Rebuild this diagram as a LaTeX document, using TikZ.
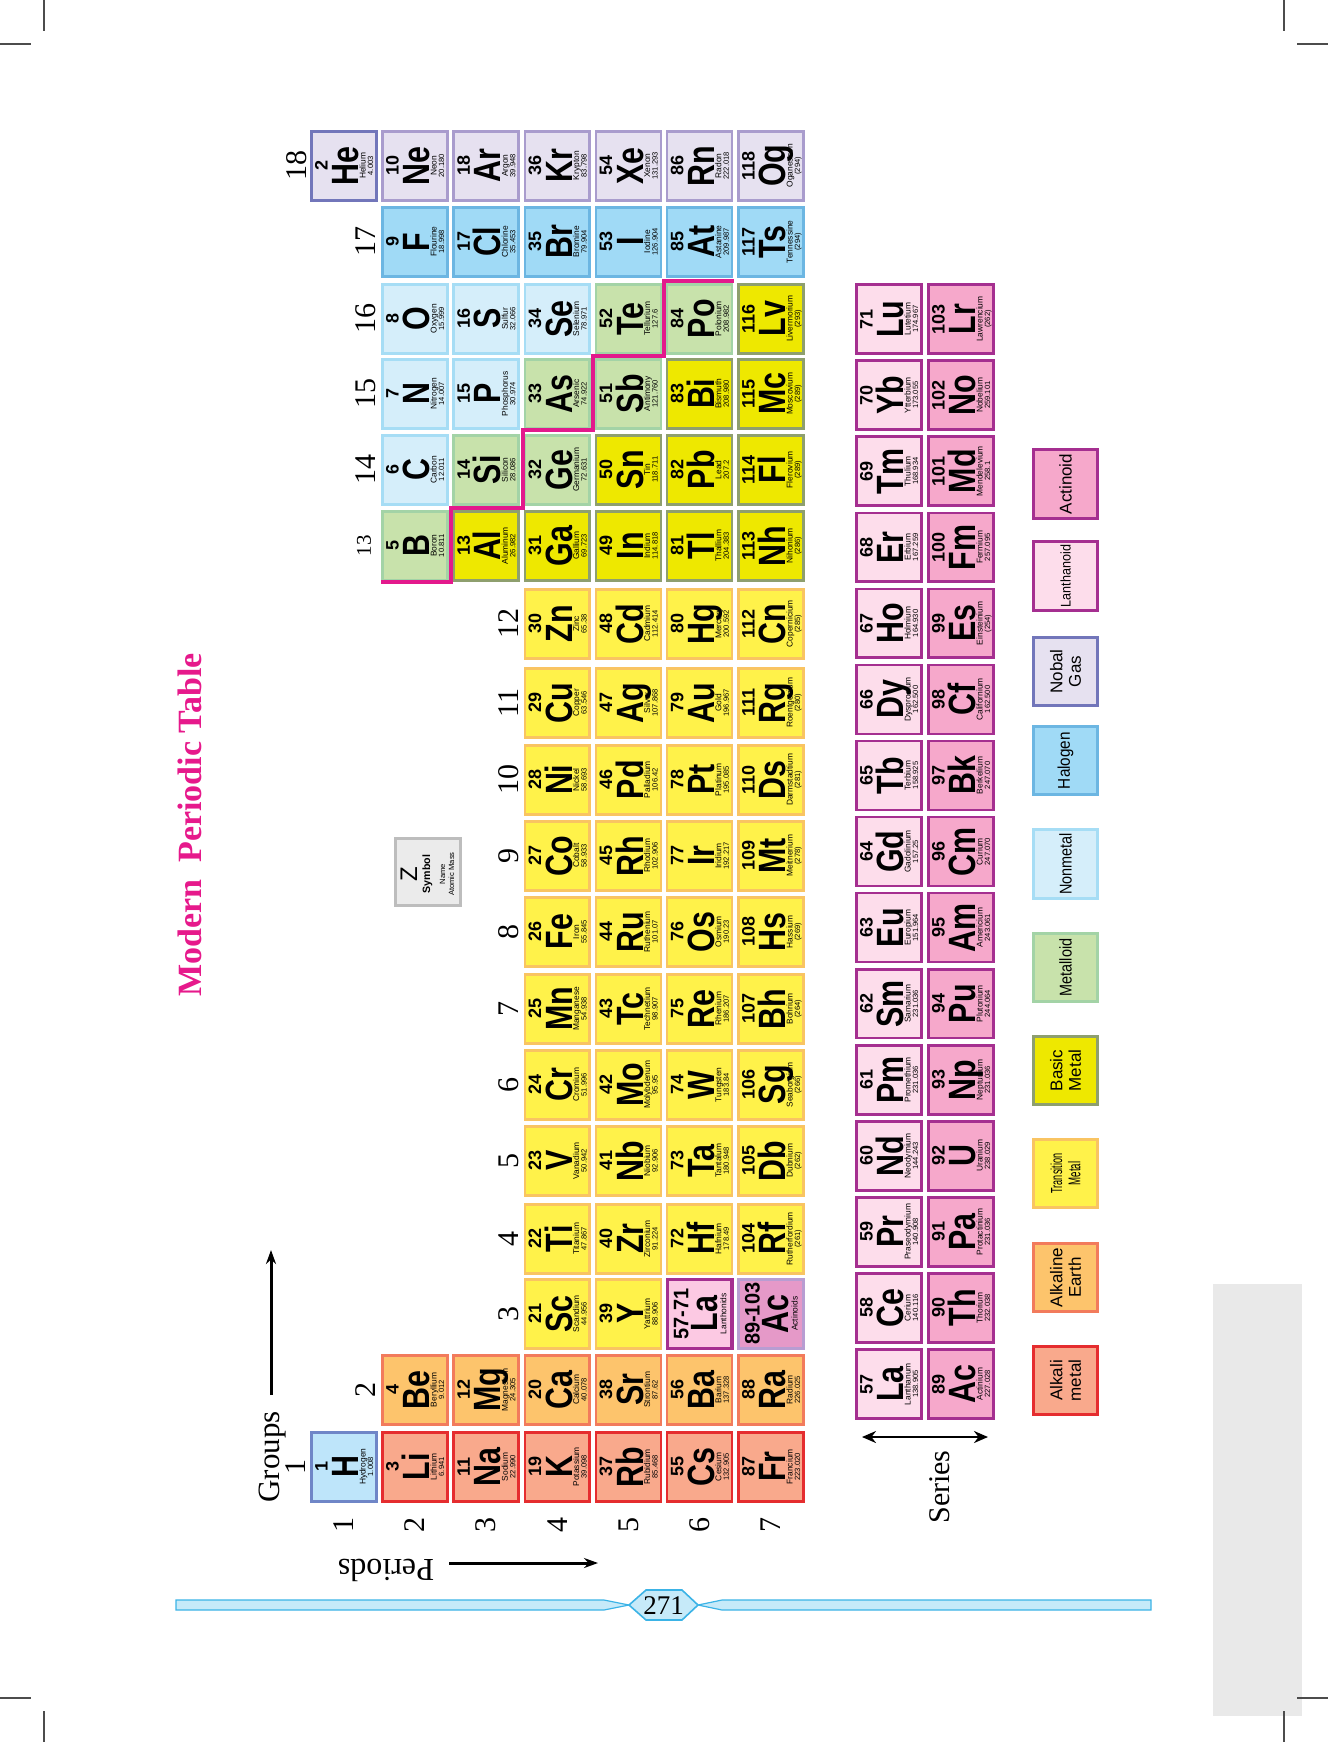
\documentclass[tikz,border=0pt]{standalone}
\usepackage{fontspec}
\setmainfont{Liberation Serif}
\newfontfamily\lsans{Liberation Sans}
\usepackage{graphicx}
\usetikzlibrary{arrows.meta}
\definecolor{alkF}{HTML}{F9A98C}\definecolor{alkD}{HTML}{E52D2F}
\definecolor{alkeF}{HTML}{FDC46C}\definecolor{alkeD}{HTML}{F27B5C}
\definecolor{transF}{HTML}{FFF24A}\definecolor{transD}{HTML}{F9C462}
\definecolor{basicF}{HTML}{EEE800}\definecolor{basicD}{HTML}{8E9F6E}
\definecolor{metdF}{HTML}{C8E2AB}\definecolor{metdD}{HTML}{A3D3A6}
\definecolor{nonmF}{HTML}{D5EEFA}\definecolor{nonmD}{HTML}{A6DDF5}
\definecolor{haloF}{HTML}{A0DAF6}\definecolor{haloD}{HTML}{6CB6E2}
\definecolor{nobleF}{HTML}{E6E1F0}\definecolor{nobleD}{HTML}{A99CCD}
\definecolor{heD}{HTML}{7276BA}
\definecolor{hydF}{HTML}{BEE5FA}\definecolor{hydD}{HTML}{6F86C7}
\definecolor{lanF}{HTML}{FDDDEB}\definecolor{lanD}{HTML}{A52F90}
\definecolor{actF}{HTML}{F6A8CB}
\definecolor{laphF}{HTML}{FCC9E3}\definecolor{acphF}{HTML}{E599C8}\definecolor{acphD}{HTML}{B89DD2}
\definecolor{stair}{HTML}{E3198C}
\definecolor{titleC}{HTML}{E6198B}
\definecolor{keyF}{HTML}{EBEBEB}\definecolor{keyD}{HTML}{BDBDBD}
\definecolor{bandF}{HTML}{C6EAF9}\definecolor{bandD}{HTML}{3BB3E6}
\definecolor{grayR}{HTML}{E9E9E9}
\tikzset{
  cellb/.style={line width=1.3pt},
  alk/.style={cellb,fill=alkF,draw=alkD},
  alke/.style={cellb,fill=alkeF,draw=alkeD},
  trans/.style={cellb,fill=transF,draw=transD},
  basic/.style={cellb,fill=basicF,draw=basicD},
  metd/.style={cellb,fill=metdF,draw=metdD},
  nonm/.style={cellb,fill=nonmF,draw=nonmD},
  halo/.style={cellb,fill=haloF,draw=haloD},
  noble/.style={cellb,fill=nobleF,draw=nobleD},
  heli/.style={cellb,fill=nobleF,draw=heD,line width=1.6pt},
  nobleleg/.style={cellb,fill=nobleF,draw=heD},
  hyd/.style={cellb,fill=hydF,draw=hydD},
  lan/.style={cellb,fill=lanF,draw=lanD},
  act/.style={cellb,fill=actF,draw=lanD},
  laph/.style={cellb,fill=laphF,draw=lanD,line width=1.6pt},
  acph/.style={cellb,fill=acphF,draw=acphD},
  numsty/.style={rotate=90,anchor=base,inner sep=0pt,font=\lsans\bfseries\fontsize{9}{9}\selectfont},
  symsty/.style={rotate=90,anchor=base,inner sep=0pt,font=\lsans\bfseries\fontsize{19}{20}\selectfont},
  namesty/.style={rotate=90,anchor=base,inner sep=0pt,font=\lsans\fontsize{4.2}{4.5}\selectfont},
  masssty/.style={rotate=90,anchor=base,inner sep=0pt,font=\lsans\fontsize{3.8}{4}\selectfont},
  glab/.style={rotate=90,inner sep=0pt,font=\fontsize{15}{15}\selectfont},
  legsty/.style={rotate=90,inner sep=0pt,align=center,font=\lsans\fontsize{8.5}{9.2}\selectfont},
  arr/.style={line width=1.5pt,-{Stealth[length=7pt,width=5pt]}},
  darr/.style={line width=1.2pt,{Stealth[length=7pt,width=6pt]}-{Stealth[length=7pt,width=6pt]}},
  cmark/.style={draw=black!70,line width=0.6pt},
}
\newcommand\getrow[1]{\pgfmathsetmacro\elT{{130,206,283,358,434,510,588,667,744,820,896,973,1049,1125,1203,1278,1354,1431}[int(18-#1)]}}
\newcommand\elbox[5]{%
  \path[#5] ({\elL+1.3},{\elT+1.3}) rectangle ({\elL+66.2},{\elT+70.2});
  \pgfmathsetmacro\elC{\elT+35.75}
  \node[numsty] (z#1) at ({\elL+17.5},\elC) {#1};
  \node[symsty] (s#1) at ({\elL+48.5},\elC) {\scalebox{0.8}[1]{#2}};
  \node[namesty] (n#1) at ({\elL+55.5},\elC) {#3};
  \node[masssty] (m#1) at ({\elL+63},\elC) {#4};}
\newcommand\el[7]{\getrow{#2}\pgfmathsetmacro\elL{310+(#1-1)*71.17}\elbox{#3}{#4}{#5}{#6}{#7}}
\newcommand\lel[7]{\pgfmathsetmacro\elL{#1}\pgfmathsetmacro\elT{283.3+#2*76.07}\elbox{#3}{#4}{#5}{#6}{#7}}
\newcommand\phel[6]{%
  \getrow{3}\pgfmathsetmacro\elL{310+(#1-1)*71.17}\pgfmathsetmacro\elC{\elT+35.75}
  \path[#6] ({\elL+1.3},{\elT+1.3}) rectangle ({\elL+66.2},{\elT+70.2});
  \node[numsty,font=\lsans\bfseries\fontsize{10.5}{10.5}\selectfont] (#2r) at ({\elL+22.5},\elC) {\scalebox{0.95}[1]{#3}};
  \node[symsty] (#2s) at ({\elL+51.5},\elC) {\scalebox{0.8}[1]{#4}};
  \node[namesty] (#2n) at ({\elL+60.5},\elC) {#5};}
\newcommand\glabel[4]{\getrow{#3}\node[glab] (#1) at (#2,{\elT+35.75}) {#4};}
\newcommand\legbox[6]{%
  \path[#2] (1033.3,{#3+1.3}) rectangle (1097.7,{#4-1.3});
  \node[legsty] (#1) at (1065.5,{(#3+#4)/2}) {#5#6};}
\begin{document}
\begin{tikzpicture}[x=0.5pt,y=-0.5pt]
\useasboundingbox (0,0) rectangle (1328,1742);
% side gray strip and crop marks
\fill[grayR] (1213,1284) rectangle (1302,1716);
\draw[cmark] (44,0) -- (44,31);
\draw[cmark] (0,44) -- (31,44);
\draw[cmark] (1284,0) -- (1284,31);
\draw[cmark] (1297,44) -- (1328,44);
\draw[cmark] (0,1698) -- (31,1698);
\draw[cmark] (44,1711) -- (44,1742);
\draw[cmark] (1297,1698) -- (1328,1698);
\draw[cmark] (1284,1711) -- (1284,1742);
% title
\node[rotate=90,inner sep=0pt,font=\bfseries\fontsize{17}{17}\selectfont,text=titleC] (title) at (190,825) {Modern\ \ Periodic Table};
% key box
\path[fill=keyF,draw=keyD,line width=1.3pt] (395.3,838.3) rectangle (460.7,905.7);
\node[rotate=90,anchor=base,inner sep=0pt,font=\lsans\fontsize{12}{12}\selectfont] (kz) at (417,874) {Z};
\node[rotate=90,anchor=base,inner sep=0pt,font=\lsans\bfseries\fontsize{5.3}{6}\selectfont] (ksym) at (430,874) {Symbol};
\node[rotate=90,anchor=base,inner sep=0pt,font=\lsans\fontsize{3.8}{4}\selectfont] (kname) at (445,874) {Name};
\node[rotate=90,anchor=base,inner sep=0pt,font=\lsans\fontsize{3.8}{4}\selectfont] (kmass) at (454,874) {Atomic Mass};
% period 1
\el{1}{1}{1}{H}{Hydrogen}{1.008}{hyd}
\el{1}{18}{2}{He}{Helium}{4.003}{heli}
% period 2
\el{2}{1}{3}{Li}{Lithium}{6.941}{alk}
\el{2}{2}{4}{Be}{Beryllium}{9.012}{alke}
\el{2}{13}{5}{B}{Boron}{10.811}{metd}
\el{2}{14}{6}{C}{Carbon}{12.011}{nonm}
\el{2}{15}{7}{N}{Nitrogen}{14.007}{nonm}
\el{2}{16}{8}{O}{Oxygen}{15.999}{nonm}
\el{2}{17}{9}{F}{Flourine}{18.998}{halo}
\el{2}{18}{10}{Ne}{Neon}{20.180}{noble}
% period 3
\el{3}{1}{11}{Na}{Sodium}{22.990}{alk}
\el{3}{2}{12}{Mg}{Magnesium}{24.305}{alke}
\el{3}{13}{13}{Al}{Aluminum}{26.982}{basic}
\el{3}{14}{14}{Si}{Silicon}{28.086}{metd}
\el{3}{15}{15}{P}{Phosphorus}{30.974}{nonm}
\el{3}{16}{16}{S}{Sulfur}{32.066}{nonm}
\el{3}{17}{17}{Cl}{Chlorine}{35.453}{halo}
\el{3}{18}{18}{Ar}{Argon}{39.948}{noble}
% period 4
\el{4}{1}{19}{K}{Potassium}{39.098}{alk}
\el{4}{2}{20}{Ca}{Calcium}{40.078}{alke}
\el{4}{3}{21}{Sc}{Scandium}{44.956}{trans}
\el{4}{4}{22}{Ti}{Titanium}{47.867}{trans}
\el{4}{5}{23}{V}{Vanadium}{50.942}{trans}
\el{4}{6}{24}{Cr}{Cromium}{51.996}{trans}
\el{4}{7}{25}{Mn}{Manganese}{54.938}{trans}
\el{4}{8}{26}{Fe}{Iron}{55.845}{trans}
\el{4}{9}{27}{Co}{Cobalt}{58.933}{trans}
\el{4}{10}{28}{Ni}{Nickel}{58.693}{trans}
\el{4}{11}{29}{Cu}{Copper}{63.546}{trans}
\el{4}{12}{30}{Zn}{Zinc}{65.38}{trans}
\el{4}{13}{31}{Ga}{Gallium}{69.723}{basic}
\el{4}{14}{32}{Ge}{Germanium}{72.631}{metd}
\el{4}{15}{33}{As}{Arsenic}{74.922}{metd}
\el{4}{16}{34}{Se}{Selenium}{78.971}{nonm}
\el{4}{17}{35}{Br}{Bromine}{79.904}{halo}
\el{4}{18}{36}{Kr}{Krypton}{83.798}{noble}
% period 5
\el{5}{1}{37}{Rb}{Rubidium}{85.468}{alk}
\el{5}{2}{38}{Sr}{Strontium}{87.62}{alke}
\el{5}{3}{39}{Y}{Yattrium}{88.906}{trans}
\el{5}{4}{40}{Zr}{Zirconium}{91.224}{trans}
\el{5}{5}{41}{Nb}{Niobium}{92.906}{trans}
\el{5}{6}{42}{Mo}{Molybdenum}{95.95}{trans}
\el{5}{7}{43}{Tc}{Technetium}{98.907}{trans}
\el{5}{8}{44}{Ru}{Ruthenium}{101.07}{trans}
\el{5}{9}{45}{Rh}{Rhodium}{102.906}{trans}
\el{5}{10}{46}{Pd}{Palladium}{106.42}{trans}
\el{5}{11}{47}{Ag}{Silver}{107.868}{trans}
\el{5}{12}{48}{Cd}{Cadmium}{112.414}{trans}
\el{5}{13}{49}{In}{Indium}{114.818}{basic}
\el{5}{14}{50}{Sn}{Tin}{118.711}{basic}
\el{5}{15}{51}{Sb}{Antimony}{121.760}{metd}
\el{5}{16}{52}{Te}{Tellurium}{127.6}{metd}
\el{5}{17}{53}{I}{Iodine}{126.904}{halo}
\el{5}{18}{54}{Xe}{Xenon}{131.293}{noble}
% period 6
\el{6}{1}{55}{Cs}{Cesium}{132.905}{alk}
\el{6}{2}{56}{Ba}{Barium}{137.328}{alke}
\phel{6}{la}{57-71}{La}{Lanthonids}{laph}
\el{6}{4}{72}{Hf}{Hafnium}{178.49}{trans}
\el{6}{5}{73}{Ta}{Tantalum}{180.948}{trans}
\el{6}{6}{74}{W}{Tungsten}{183.84}{trans}
\el{6}{7}{75}{Re}{Rhenium}{186.207}{trans}
\el{6}{8}{76}{Os}{Osmium}{190.23}{trans}
\el{6}{9}{77}{Ir}{Iridium}{192.217}{trans}
\el{6}{10}{78}{Pt}{Platinum}{195.085}{trans}
\el{6}{11}{79}{Au}{Gold}{196.967}{trans}
\el{6}{12}{80}{Hg}{Mercury}{200.592}{trans}
\el{6}{13}{81}{Tl}{Thallium}{204.383}{basic}
\el{6}{14}{82}{Pb}{Lead}{207.2}{basic}
\el{6}{15}{83}{Bi}{Bismuth}{208.980}{basic}
\el{6}{16}{84}{Po}{Polonium}{208.982}{metd}
\el{6}{17}{85}{At}{Astanine}{209.987}{halo}
\el{6}{18}{86}{Rn}{Radon}{222.018}{noble}
% period 7
\el{7}{1}{87}{Fr}{Francium}{223.020}{alk}
\el{7}{2}{88}{Ra}{Radium}{226.025}{alke}
\phel{7}{ac}{89-103}{Ac}{Actinoids}{acph}
\el{7}{4}{104}{Rf}{Rutherfordium}{(261)}{trans}
\el{7}{5}{105}{Db}{Dubnium}{(262)}{trans}
\el{7}{6}{106}{Sg}{Seaborgium}{(266)}{trans}
\el{7}{7}{107}{Bh}{Bohrium}{(264)}{trans}
\el{7}{8}{108}{Hs}{Hassium}{(269)}{trans}
\el{7}{9}{109}{Mt}{Meitnerium}{(278)}{trans}
\el{7}{10}{110}{Ds}{Darmstadtium}{(281)}{trans}
\el{7}{11}{111}{Rg}{Roentgenium}{(280)}{trans}
\el{7}{12}{112}{Cn}{Copernicium}{(285)}{trans}
\el{7}{13}{113}{Nh}{Nihonium}{(286)}{basic}
\el{7}{14}{114}{Fl}{Flerovium}{(289)}{basic}
\el{7}{15}{115}{Mc}{Moscovium}{(289)}{basic}
\el{7}{16}{116}{Lv}{Livermorium}{(293)}{basic}
\el{7}{17}{117}{Ts}{Tennessine}{(294)}{halo}
\el{7}{18}{118}{Og}{Oganesson}{(294)}{noble}
% lanthanides
\lel{855}{14}{57}{La}{Lanthanum}{138.905}{lan}
\lel{855}{13}{58}{Ce}{Cerium}{140.116}{lan}
\lel{855}{12}{59}{Pr}{Praseodymium}{140.908}{lan}
\lel{855}{11}{60}{Nd}{Neodymium}{144.243}{lan}
\lel{855}{10}{61}{Pm}{Promethium}{231.036}{lan}
\lel{855}{9}{62}{Sm}{Samarium}{231.036}{lan}
\lel{855}{8}{63}{Eu}{Europium}{151.964}{lan}
\lel{855}{7}{64}{Gd}{Gadolinium}{157.25}{lan}
\lel{855}{6}{65}{Tb}{Terbium}{158.925}{lan}
\lel{855}{5}{66}{Dy}{Dysprosium}{162.500}{lan}
\lel{855}{4}{67}{Ho}{Holmium}{164.930}{lan}
\lel{855}{3}{68}{Er}{Erbium}{167.259}{lan}
\lel{855}{2}{69}{Tm}{Thulium}{168.934}{lan}
\lel{855}{1}{70}{Yb}{Ytterbium}{173.055}{lan}
\lel{855}{0}{71}{Lu}{Lutetium}{174.967}{lan}
% actinides
\lel{927}{14}{89}{Ac}{Actinium}{227.028}{act}
\lel{927}{13}{90}{Th}{Thorium}{232.038}{act}
\lel{927}{12}{91}{Pa}{Protactinium}{231.036}{act}
\lel{927}{11}{92}{U}{Uranium}{238.029}{act}
\lel{927}{10}{93}{Np}{Neptunium}{231.036}{act}
\lel{927}{9}{94}{Pu}{Plutonium}{244.064}{act}
\lel{927}{8}{95}{Am}{Americium}{243.061}{act}
\lel{927}{7}{96}{Cm}{Curium}{247.070}{act}
\lel{927}{6}{97}{Bk}{Berkelium}{247.070}{act}
\lel{927}{5}{98}{Cf}{Californium}{162.500}{act}
\lel{927}{4}{99}{Es}{Einsteinium}{(254)}{act}
\lel{927}{3}{100}{Fm}{Fermium}{257.095}{act}
\lel{927}{2}{101}{Md}{Mendelevium}{258.1}{act}
\lel{927}{1}{102}{No}{Nobelium}{259.101}{act}
\lel{927}{0}{103}{Lr}{Lawrencium}{(262)}{act}
% metalloid boundary
\draw[draw=stair,line width=1.8pt] (381,582) -| (451,508) -| (523,430) -| (593,356) -| (664,281) -- (734,281);
% group labels
\glabel{g1}{296}{1}{1}
\glabel{g2}{366}{2}{2}
\glabel{g3}{509}{3}{3}
\glabel{g4}{509}{4}{4}
\glabel{g5}{509}{5}{5}
\glabel{g6}{509}{6}{6}
\glabel{g7}{509}{7}{7}
\glabel{g8}{509}{8}{8}
\glabel{g9}{509}{9}{9}
\glabel{g10}{509}{10}{10}
\glabel{g11}{509}{11}{11}
\glabel{g12}{509}{12}{12}
\getrow{13}\node[glab,font=\fontsize{10.5}{10.5}\selectfont] (g13) at (364,{\elT+35.75}) {13};
\glabel{g14}{366}{14}{14}
\glabel{g15}{366}{15}{15}
\glabel{g16}{366}{16}{16}
\glabel{g17}{366}{17}{17}
\glabel{g18}{297}{18}{18}
% period labels
\node[glab] (p1) at (343.75,1525) {1};
\node[glab] (p2) at (414.92,1525) {2};
\node[glab] (p3) at (486.09,1525) {3};
\node[glab] (p4) at (557.26,1525) {4};
\node[glab] (p5) at (628.43,1525) {5};
\node[glab] (p6) at (699.6,1525) {6};
\node[glab] (p7) at (770.77,1525) {7};
% axis captions and arrows
\node[glab,font=\fontsize{15.5}{15.5}\selectfont] (groups) at (273,1457) {Groups};
\coordinate (ga1) at (271,1395);
\coordinate (ga2) at (271,1250);
\draw[arr] (ga1) -- (ga2);
\node[rotate=180,inner sep=0pt,font=\fontsize{16}{16}\selectfont] (periods) at (386,1570) {Periods};
\coordinate (pa1) at (449,1563);
\coordinate (pa2) at (598,1563);
\draw[arr] (pa1) -- (pa2);
\node[glab] (series) at (940,1487) {Series};
\coordinate (sa1) at (862,1437);
\coordinate (sa2) at (988,1437);
\draw[darr] (sa1) -- (sa2);
% legend
\legbox{lgact}{act}{448}{520}{}{Actinoid}
\legbox{lglan}{lan}{540}{612}{\fontsize{7}{8}\selectfont}{\scalebox{0.9}[1]{Lanthanoid}}
\legbox{lgnob}{nobleleg}{636}{707}{}{Nobal\\Gas}
\legbox{lghal}{halo}{725}{796}{}{\scalebox{0.9}[1]{Halogen}}
\legbox{lgnon}{nonm}{828}{900}{}{\scalebox{0.85}[1]{Nonmetal}}
\legbox{lgmet}{metd}{932}{1003}{}{\scalebox{0.85}[1]{Metalloid}}
\legbox{lgbas}{basic}{1035}{1106}{}{Basic\\Metal}
\legbox{lgtra}{trans}{1138}{1209}{\fontsize{8}{9}\selectfont}{\scalebox{0.57}[1]{Transition}\\\scalebox{0.57}[1]{Metal}}
\legbox{lgake}{alke}{1242}{1313}{}{Alkaline\\Earth}
\legbox{lgalk}{alk}{1345}{1416}{}{Alkali\\metal}
% page number band
\path[fill=bandF,draw=bandD,line width=0.6pt] (176,1600) -- (604,1600) -- (629,1605) -- (604,1610) -- (176,1610) -- cycle;
\path[fill=bandF,draw=bandD,line width=0.6pt] (698,1605) -- (722,1600) -- (1151,1600) -- (1151,1610) -- (722,1610) -- cycle;
\path[fill=bandF,draw=bandD,line width=0.8pt] (629,1605) -- (646,1590) -- (682,1590) -- (698,1605) -- (682,1620) -- (646,1620) -- cycle;
\node[inner sep=0pt,font=\fontsize{13.5}{13.5}\selectfont] (pgnum) at (663.5,1606) {271};
\end{tikzpicture}
\end{document}
